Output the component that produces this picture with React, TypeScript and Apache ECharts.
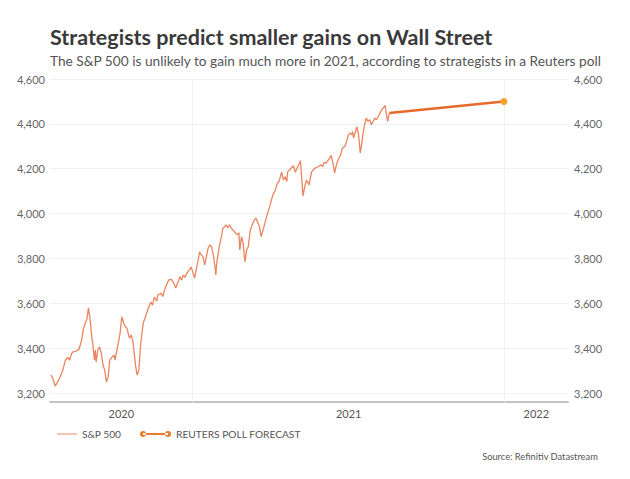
import React, { useEffect, useRef } from 'react';
import * as echarts from 'echarts';

const TITLE = 'Strategists predict smaller gains on Wall Street';
const SUBTITLE =
  'The S&P 500 is unlikely to gain much more in 2021, according to strategists in a Reuters poll';
const SOURCE = 'Source: Refinitiv Datastream';
const SP_NAME = 'S&P 500';
const FORECAST_NAME = 'REUTERS POLL FORECAST';

// Days counted from 2021-01-01
const spDays = [
  -166, -164, -161, -159, -156, -152, -149, -146, -144, -142, -140, -136, -133, -130, -128, -126,
  -124, -122, -120, -118, -117, -115, -114, -113, -111, -109, -107, -105, -103, -101, -99, -97,
  -94, -92, -91, -88, -85, -83, -80, -77, -74, -72, -70, -67, -65, -63, -61, -58, -55, -52, -49,
  -47, -45, -42, -41, -37, -35, -33, -30, -28, -25, -22, -20, -17, -15, -13, -11, -9, -7, -4, -2,
  0, 2, 4, 6, 8, 10, 12, 14, 16, 18, 20, 22, 24, 26, 27, 28, 31, 34, 35, 39, 41, 43, 45, 49, 52,
  54, 55, 57, 59, 61, 63, 65, 67, 69, 72, 74, 78, 80, 83, 86, 90, 94, 96, 99, 101, 104, 106, 108,
  110, 111, 115, 118, 120, 123, 126, 127, 129, 131, 133, 136, 139, 143, 147, 150, 152, 154, 156,
  160, 162, 164, 166, 168, 170, 173, 175, 178, 180, 182, 184, 186, 187, 188, 190, 192, 194, 196,
  198, 199, 201, 203, 205, 207, 209, 211, 213, 215, 217, 219, 221, 223, 225, 226, 228, 230,
];
const spValues = [
  3280, 3270, 3231, 3243, 3265, 3302, 3347, 3359, 3347, 3374, 3384, 3388, 3395, 3436, 3484, 3511,
  3526, 3580, 3526, 3444, 3422, 3347, 3392, 3339, 3392, 3406, 3377, 3325, 3302, 3250, 3272, 3347,
  3362, 3369, 3347, 3406, 3466, 3540, 3503, 3488, 3444, 3459, 3429, 3325, 3280, 3302, 3414, 3511,
  3543, 3579, 3606, 3592, 3628, 3610, 3637, 3645, 3630, 3659, 3689, 3704, 3707, 3689, 3668, 3696,
  3719, 3704, 3726, 3716, 3734, 3749, 3762, 3740, 3712, 3749, 3786, 3829, 3816, 3807, 3771, 3808,
  3846, 3860, 3853, 3816, 3763, 3726, 3779, 3853, 3905, 3932, 3950, 3936, 3950, 3935, 3918, 3905,
  3914, 3838, 3897, 3868, 3784, 3838, 3853, 3918, 3945, 3972, 3979, 3942, 3897, 3936, 3981, 4031,
  4088, 4098, 4136, 4143, 4186, 4150, 4164, 4143, 4186, 4202, 4213, 4184, 4211, 4235, 4182, 4079,
  4119, 4150, 4128, 4186, 4203, 4210, 4217, 4210, 4229, 4225, 4247, 4259, 4225, 4180, 4217, 4240,
  4262, 4292, 4299, 4321, 4351, 4359, 4351, 4366, 4337, 4359, 4388, 4351, 4270, 4321, 4351, 4396,
  4426, 4411, 4418, 4396, 4411, 4426, 4418, 4433, 4448, 4463, 4471, 4482, 4455, 4411, 4448,
];
const forecastDays = [230, 364];
const forecastValues = [4448, 4500];

const yTicks = [3200, 3400, 3600, 3800, 4000, 4200, 4400, 4600];
const yearLabels = ['2020', '2021', '2022'];
const yearStartDays = [-366, 0, 365, 730];
const yearBoundaryDays = [0, 365];
const X_MIN = -167;
const X_MAX = 439;
const Y_MIN = 3160;
const Y_MAX = 4600;

const FONT = 'Lato';

export default function App() {
  const ref = useRef<HTMLDivElement>(null);

  useEffect(() => {
    if (!ref.current) return;
    const chart = echarts.init(ref.current, undefined, { renderer: 'svg' });

    const yearRanges = yearLabels.map((_, i) => [
      Math.max(yearStartDays[i], X_MIN),
      Math.min(yearStartDays[i + 1], X_MAX),
    ]);
    const yearCenters = yearRanges.map(([a, b]) => (a + b) / 2);

    const yAxisBase = {
      type: 'value',
      min: Y_MIN,
      max: Y_MAX,
      axisLine: { show: false },
      axisTick: { show: false, customValues: yTicks },
      splitLine: { show: true, lineStyle: { color: '#f1f1f1', width: 1 } },
      axisLabel: {
        customValues: yTicks,
        color: '#666',
        fontFamily: FONT,
        fontSize: 11,
        formatter: (v: number) => v.toLocaleString('en-US'),
      },
    };

    chart.setOption({
      animation: false,
      backgroundColor: '#fff',
      textStyle: { fontFamily: FONT },
      title: [
        {
          text: TITLE,
          left: 50,
          top: 25,
          padding: 0,
          textStyle: { fontFamily: FONT, fontSize: 21.5, fontWeight: 'bold', color: '#3a3a3a', lineHeight: 24 },
        },
        {
          text: SUBTITLE,
          left: 50,
          top: 52,
          padding: 0,
          textStyle: { fontFamily: FONT, fontSize: 13.7, fontWeight: 'normal', color: '#555', lineHeight: 16 },
        },
        {
          text: SOURCE,
          right: 32,
          top: 450,
          padding: 0,
          textStyle: { fontFamily: FONT, fontSize: 9.3, fontWeight: 'normal', color: '#555', lineHeight: 12 },
        },
      ],
      legend: [
        {
          data: [
            {
              name: SP_NAME,
              icon: 'path://M0,0H22V1.4H0Z',
              itemStyle: { color: '#f0a385' },
            },
          ],
          left: 57,
          top: 429,
          padding: 0,
          itemWidth: 20,
          itemHeight: 1.3,
          textStyle: { fontFamily: FONT, fontSize: 10.2, color: '#555' },
        },
        {
          data: [
            {
              name: FORECAST_NAME,
              icon: 'path://M0.5,3.5a3,3 0 1,0 6,0a3,3 0 1,0 -6,0Z M25.5,3.5a3,3 0 1,0 6,0a3,3 0 1,0 -6,0Z M3.5,2.5H28.5V4.5H3.5Z',
              itemStyle: { color: '#ec7b2c' },
            },
          ],
          left: 140,
          top: 429,
          padding: 0,
          itemWidth: 31,
          itemHeight: 6,
          textStyle: { fontFamily: FONT, fontSize: 10.2, color: '#555' },
        },
      ],
      grid: { left: 50, right: 62, top: 79, bottom: 77, containLabel: false },
      xAxis: {
        type: 'value',
        min: X_MIN,
        max: X_MAX,
        axisLine: { show: true, lineStyle: { color: '#c4c4c4', width: 2 } },
        axisTick: { show: false },
        splitLine: { show: false },
        axisLabel: {
          customValues: yearCenters,
          color: '#555',
          fontFamily: FONT,
          fontSize: 11,
          margin: 6,
          formatter: (v: number) => {
            const i = yearRanges.findIndex(([a, b]) => v >= a && v <= b);
            return i >= 0 ? yearLabels[i] : '';
          },
        },
      },
      yAxis: [
        { ...yAxisBase, position: 'left', axisLabel: { ...yAxisBase.axisLabel, margin: 5 } },
        {
          ...yAxisBase,
          position: 'right',
          splitLine: { show: false },
          axisLabel: { ...yAxisBase.axisLabel, margin: 6 },
        },
      ],
      series: [
        {
          name: SP_NAME,
          type: 'line',
          data: spDays.map((d, i) => [d, spValues[i]]),
          showSymbol: false,
          symbol: 'none',
          lineStyle: { color: '#ea8560', width: 1.3 },
          itemStyle: { color: '#ea8560' },
          z: 3,
          markLine: {
            silent: true,
            symbol: 'none',
            label: { show: false },
            lineStyle: { color: '#f3f3f3', type: 'solid', width: 1 },
            data: yearBoundaryDays.map((d) => ({ xAxis: d })),
            z: 1,
          },
        },
        {
          name: FORECAST_NAME,
          type: 'line',
          data: forecastDays.map((d, i) => ({
            value: [d, forecastValues[i]],
            symbol: i === 0 ? 'none' : 'circle',
          })),
          symbolSize: 7,
          showSymbol: true,
          lineStyle: { color: '#e8692c', width: 2.5 },
          itemStyle: { color: '#f5a12c' },
          z: 4,
        },
      ],
    });

    return () => chart.dispose();
  }, []);

  return (
    <div
      ref={ref}
      style={{ position: 'fixed', left: 0, top: 0, width: 630, height: 479, background: '#fff' }}
    />
  );
}
